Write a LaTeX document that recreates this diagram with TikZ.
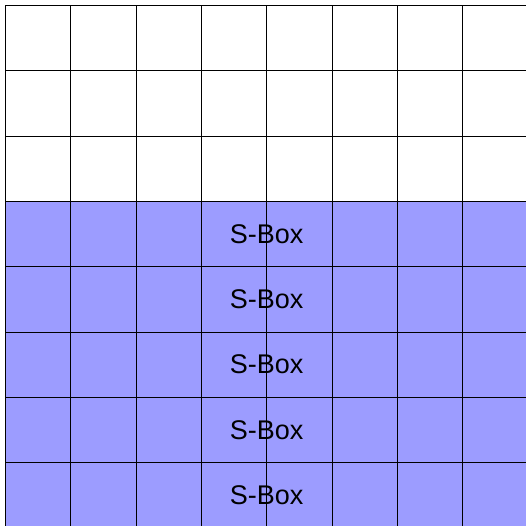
\documentclass[tikz,border=0pt]{standalone}
\usepackage{fontspec}
\setmainfont{Liberation Sans}
\definecolor{sboxblue}{RGB}{156,156,255}
\begin{document}
\begin{tikzpicture}[x=65.3bp,y=65.3bp]
        % Frame
        \useasboundingbox (-0.084,0.084) rectangle (7.971,-7.971);
        \clip (-0.084,0.084) rectangle (7.971,-7.971);

        % S-Box rows
        \fill[sboxblue] (0,-3) rectangle (8,-8);
        \foreach \r in {3,...,7}
            \node[font=\fontsize{27bp}{30bp}\selectfont] (sbox\r) at (4,-\r-0.5) {S-Box};

        % Grid
        \draw[line width=0.8bp, step=65.3bp] (0,0) grid (8,-8);
\end{tikzpicture}
\end{document}
